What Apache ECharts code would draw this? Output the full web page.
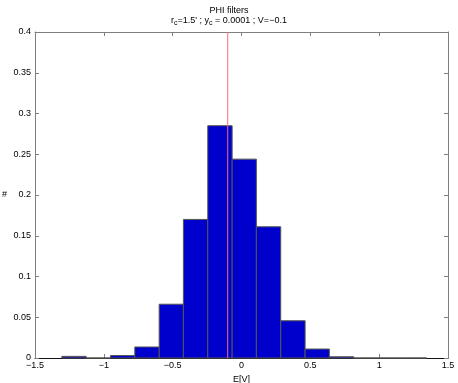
<!DOCTYPE html>
<html>
<head>
<meta charset="utf-8">
<script src="https://cdn.jsdelivr.net/npm/echarts@6/dist/echarts.min.js"></script>
<style>
  html, body { margin: 0; padding: 0; background: #fff; }
  #main { width: 458px; height: 383px; }
</style>
</head>
<body>
<div id="main"></div>
<script>
// histogram bins (left edge, right edge) and normalised counts
const binStarts = [-1.305, -1.128, -0.952, -0.775, -0.598, -0.422, -0.245, -0.068, 0.108, 0.285, 0.462, 0.638, 0.815, 0.992, 1.168]
const binEnds = [-1.128, -0.952, -0.775, -0.598, -0.422, -0.245, -0.068, 0.108, 0.285, 0.462, 0.638, 0.815, 0.992, 1.168, 1.345]
const binValues = [0.002, 0, 0.003, 0.0135, 0.066, 0.170, 0.285, 0.244, 0.161, 0.0457, 0.011, 0.0015, 0, 0, 0]
const markerX = -0.1
const xTicks = [-1.5, -1, -0.5, 0, 0.5, 1, 1.5]
const yTicks = [0, 0.05, 0.1, 0.15, 0.2, 0.25, 0.3, 0.35, 0.4]

const font = 'Liberation Sans, Helvetica, Arial, sans-serif'
const boxColor = '#7f7f7f'

function fmt(v) {
  return String(v).replace('-', '\u2212')
}

var myChart = echarts.init(document.getElementById('main'))

const histData = binStarts.map((s, i) => [s, binEnds[i], binValues[i]])

myChart.setOption({
  animation: false,
  textStyle: { fontFamily: font },
  title: [{
    text: 'PHI filters',
    left: 'center',
    top: 1,
    textStyle: { fontSize: 9, fontWeight: 'normal', color: '#000', fontFamily: font }
  }, {
    text: "r{sub|c}=1.5' ; y{sub|c} = 0.0001 ; V=\u22120.1",
    left: 'center',
    top: 10,
    textStyle: {
      fontSize: 9, fontWeight: 'normal', color: '#000', fontFamily: font,
      lineHeight: 12,
      rich: {
        sub: { fontSize: 7, lineHeight: 6, verticalAlign: 'bottom', color: '#000', fontFamily: font }
      }
    }
  }],
  grid: { left: 35, right: 10, top: 32, bottom: 25, outerBoundsMode: 'none', containLabel: false },
  xAxis: [{
    type: 'value',
    min: xTicks[0],
    max: xTicks[xTicks.length - 1],
    interval: 0.5,
    name: 'E[V]',
    nameLocation: 'middle',
    nameGap: 13,
    nameTextStyle: { fontSize: 9, color: '#000', fontFamily: font },
    axisLine: { onZero: false, lineStyle: { color: '#111', width: 1 } },
    axisTick: { inside: true, length: 4, lineStyle: { color: boxColor } },
    axisLabel: { fontSize: 9, color: '#000', margin: 3, formatter: fmt },
    splitLine: { show: false }
  }, {
    type: 'value',
    position: 'top',
    min: xTicks[0],
    max: xTicks[xTicks.length - 1],
    interval: 0.5,
    axisLine: { onZero: false, lineStyle: { color: boxColor } },
    axisTick: { inside: true, length: 4, lineStyle: { color: boxColor } },
    axisLabel: { show: false },
    splitLine: { show: false }
  }],
  yAxis: [{
    type: 'value',
    position: 'left',
    min: yTicks[0],
    max: yTicks[yTicks.length - 1],
    interval: 0.05,
    name: '#',
    nameLocation: 'middle',
    nameGap: 28,
    nameRotate: 0,
    nameTextStyle: { fontSize: 9, color: '#000', fontFamily: font },
    axisLine: { show: true, onZero: false, lineStyle: { color: boxColor } },
    axisTick: { show: true, inside: true, length: 4, lineStyle: { color: boxColor } },
    axisLabel: { fontSize: 9, color: '#000', margin: 4, formatter: fmt },
    splitLine: { show: false }
  }, {
    type: 'value',
    position: 'right',
    min: yTicks[0],
    max: yTicks[yTicks.length - 1],
    interval: 0.05,
    axisLine: { show: true, onZero: false, lineStyle: { color: boxColor } },
    axisTick: { show: true, inside: true, length: 4, lineStyle: { color: boxColor } },
    axisLabel: { show: false },
    splitLine: { show: false }
  }],
  series: [{
    type: 'custom',
    xAxisIndex: 0,
    yAxisIndex: 0,
    data: histData,
    renderItem: function (params, api) {
      const p0 = api.coord([api.value(0), 0])
      const p1 = api.coord([api.value(1), api.value(2)])
      return {
        type: 'rect',
        shape: { x: p0[0], y: p1[1], width: p1[0] - p0[0], height: p0[1] - p1[1] },
        style: { fill: '#0000cc', stroke: '#555555', lineWidth: 1 }
      }
    }
  }, {
    type: 'line',
    xAxisIndex: 0,
    yAxisIndex: 0,
    data: [[markerX, yTicks[0]], [markerX, yTicks[yTicks.length - 1]]],
    symbol: 'none',
    lineStyle: { color: '#f07070', width: 1 }
  }]
})
</script>
</body>
</html>
